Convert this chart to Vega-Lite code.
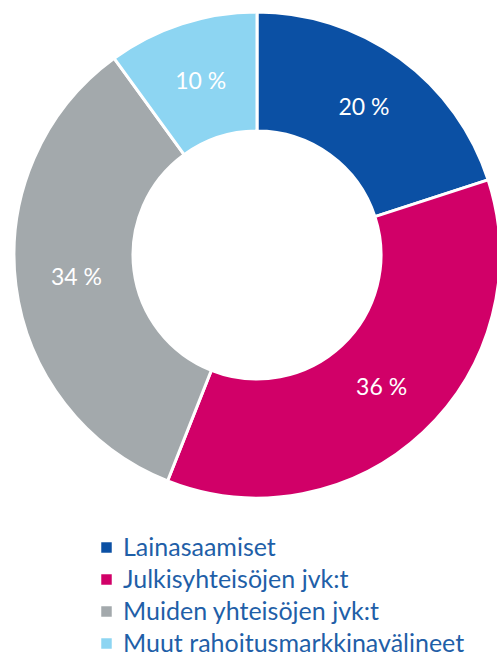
{
  "$schema": "https://vega.github.io/schema/vega-lite/v6.json",
  "width": 514,
  "height": 510,
  "padding": {"top": 0, "left": 0, "right": 0, "bottom": 148},
  "autosize": {"type": "none"},
  "background": "white",
  "config": {"view": {"stroke": null}, "font": "Lato"},
  "data": {
    "values": [
      {"i": 1, "category": "Lainasaamiset", "value": 20, "label": "20 %"},
      {"i": 2, "category": "Julkisyhteisöjen jvk:t", "value": 36, "label": "36 %"},
      {"i": 3, "category": "Muiden yhteisöjen jvk:t", "value": 34, "label": "34 %"},
      {"i": 4, "category": "Muut rahoitusmarkkinavälineet", "value": 10, "label": "10 %"}
    ]
  },
  "encoding": {
    "theta": {"field": "value", "type": "quantitative", "stack": true},
    "order": {"field": "i", "type": "quantitative"}
  },
  "layer": [
    {
      "mark": {"type": "arc", "outerRadius": 243, "innerRadius": 124, "stroke": "white", "strokeWidth": 3},
      "encoding": {
        "color": {
          "field": "category",
          "type": "nominal",
          "sort": ["Lainasaamiset", "Julkisyhteisöjen jvk:t", "Muiden yhteisöjen jvk:t", "Muut rahoitusmarkkinavälineet"],
          "scale": {
            "domain": ["Lainasaamiset", "Julkisyhteisöjen jvk:t", "Muiden yhteisöjen jvk:t", "Muut rahoitusmarkkinavälineet"],
            "range": ["#0b50a4", "#d10068", "#a3a9ac", "#8dd5f2"]
          },
          "legend": {
            "title": null,
            "orient": "none",
            "legendX": 94,
            "legendY": 535,
            "symbolType": "square",
            "symbolSize": 110,
            "symbolStrokeWidth": 0,
            "labelFontSize": 25,
            "labelColor": "#1f5fa8",
            "labelFont": "Lato",
            "labelLimit": 0,
            "rowPadding": 6,
            "labelOffset": 4
          }
        }
      }
    },
    {
      "mark": {"type": "text", "radius": 182, "color": "white", "fontSize": 23, "font": "Lato"},
      "encoding": {"text": {"field": "label"}}
    }
  ]
}
